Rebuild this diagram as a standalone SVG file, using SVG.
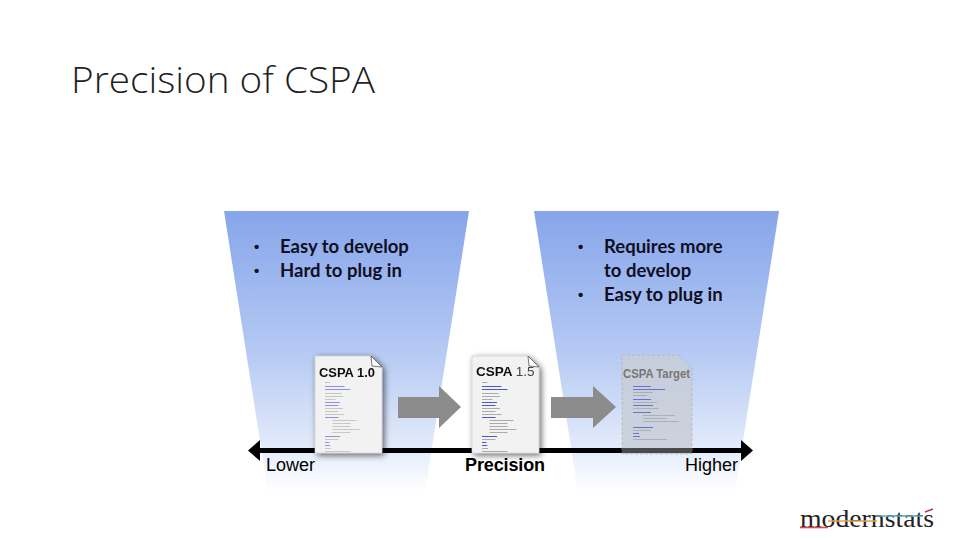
<svg xmlns="http://www.w3.org/2000/svg" width="960" height="540" viewBox="0 0 960 540">
<style>
.title{font-family:"Open Sans","Liberation Sans",sans-serif;font-weight:300;font-size:36px;fill:#1f1f1f}
.bul{font-family:Lato,"Liberation Sans",sans-serif;font-weight:700;font-size:18.5px;fill:#0f0f24}
.dot{font-family:"Liberation Sans",Arial,sans-serif;font-weight:700;font-size:15px;fill:#0f0f24}
.lab{font-family:"Liberation Sans",Arial,sans-serif;font-size:18px;fill:#000}
.doct{font-family:"Liberation Sans",Arial,sans-serif;font-weight:700;font-size:13.5px;fill:#111}
.doc{fill:#f2f2f2;stroke:#c8c8c8;stroke-width:.6}
.fold{fill:#fff;stroke:#555;stroke-width:.8}
.a{fill:#8c8c8c}
.b{fill:#3a46c8}
.g{fill:#999}
</style>
<defs>
<linearGradient id="fade" x1="0" y1="0" x2="0" y2="1">
<stop offset="0" stop-color="#86a5ea"/>
<stop offset=".5" stop-color="#b5c9f3"/>
<stop offset=".85" stop-color="#e4ecfb"/>
<stop offset="1" stop-color="#ffffff"/>
</linearGradient>
<filter id="sh" x="-20%" y="-20%" width="140%" height="140%">
<feGaussianBlur in="SourceAlpha" stdDeviation="3"/>
<feOffset dx="2" dy="2"/>
<feComponentTransfer><feFuncA type="linear" slope=".6"/></feComponentTransfer>
<feMerge><feMergeNode/><feMergeNode in="SourceGraphic"/></feMerge>
</filter>
<g id="lines">
<rect class="g" x="12" y="26" width="7" height=".8"/>
<rect class="b" x="12" y="30" width="26" height=".9"/>
<rect class="b" x="12" y="33" width="34" height=".9"/>
<rect class="g" x="12" y="37" width="22" height=".8"/>
<rect class="g" x="12" y="40" width="24" height=".8"/>
<rect class="g" x="12" y="43" width="14" height=".8"/>
<rect class="b" x="12" y="46" width="20" height=".9"/>
<rect class="b" x="12" y="49" width="18" height=".9"/>
<rect class="g" x="12" y="52" width="24" height=".8"/>
<rect class="g" x="12" y="55" width="18" height=".8"/>
<rect class="g" x="12" y="58" width="26" height=".8"/>
<rect class="b" x="12" y="61" width="18" height=".9"/>
<rect class="g" x="22" y="64" width="32" height=".8"/>
<rect class="g" x="22" y="67" width="24" height=".8"/>
<rect class="g" x="22" y="70" width="24" height=".8"/>
<rect class="g" x="22" y="73" width="36" height=".8"/>
<rect class="g" x="22" y="76" width="24" height=".8"/>
<rect class="b" x="12" y="80" width="20" height=".9"/>
<rect class="g" x="12" y="83" width="18" height=".8"/>
<rect class="b" x="12" y="86" width="6" height=".9"/>
<rect class="b" x="12" y="89" width="7" height=".9"/>
<rect class="g" x="12" y="92" width="8" height=".8"/>
<rect class="g" x="12" y="95" width="34" height=".8"/>
</g>
</defs>
<text class="title" x="71" y="93" textLength="304" lengthAdjust="spacingAndGlyphs">Precision of CSPA</text>

<g id="funnel-left">
<path d="M224 211H469L425 492H268Z" fill="url(#fade)"/>
<text class="dot"><tspan x="254" y="252">•</tspan><tspan x="254" y="276">•</tspan></text>
<text class="bul"><tspan x="280" y="253">Easy to develop</tspan><tspan x="280" y="277">Hard to plug in</tspan></text>
</g>
<g id="funnel-right">
<path d="M534 211H779L735 492H578Z" fill="url(#fade)"/>
<text class="dot"><tspan x="578" y="252">•</tspan><tspan x="578" y="300">•</tspan></text>
<text class="bul"><tspan x="604" y="253">Requires more</tspan><tspan x="604" y="277">to develop</tspan><tspan x="604" y="301">Easy to plug in</tspan></text>
</g>

<g id="connectors">
<path d="M258 450.500H742" stroke="#000" stroke-width="5" fill="none"/>
<path d="M248 450.500L260 440V461Z M753 450.500L741 440V461Z" fill="#000"/>
<path class="a" d="M398 397H439V386L461 407L439 428V418H398Z"/>
<path class="a" d="M551 397H593V386L616 407L593 428V418H551Z"/>
</g>

<g id="doc-10" filter="url(#sh)">
<path class="doc" d="M315 356H371L382 367V453H315Z"/>
<path class="fold" d="M371 356L382 367L372 366Z"/>
<text class="doct" x="319" y="377" textLength="56" lengthAdjust="spacingAndGlyphs">CSPA 1.0</text>
<use href="#lines" transform="translate(316 356) scale(.75 1)" opacity=".6"/>
</g>
<g id="doc-15" filter="url(#sh)">
<path class="doc" d="M472 356H528L539 367V453H472Z"/>
<path class="fold" d="M528 356L539 367L529 366Z"/>
<text class="doct" x="476" y="376">CSPA <tspan font-weight="400" fill="#444" style="font-weight:400">1.5</tspan></text>
<use href="#lines" transform="translate(473 356) scale(.75 1)"/>
</g>
<g id="doc-target">
<path d="M622 355H678L692 368V454H622Z" fill="#c9ced8" opacity=".85" stroke="#aaa" stroke-width=".7" stroke-dasharray="3 2"/>
<rect x="622" y="448" width="70" height="5" fill="#4a4a4a"/>
<text class="doct" x="623" y="378" style="fill:#777" textLength="67" lengthAdjust="spacingAndGlyphs">CSPA Target</text>
<g opacity=".75">
<rect class="b" x="633" y="386" width="18" height=".9"/>
<rect class="b" x="633" y="389" width="32" height=".9"/>
<rect class="g" x="633" y="392" width="20" height=".8"/>
<rect class="g" x="633" y="395" width="14" height=".8"/>
<rect class="b" x="633" y="399" width="18" height=".9"/>
<rect class="g" x="633" y="402" width="24" height=".8"/>
<rect class="b" x="633" y="405" width="20" height=".9"/>
<rect class="g" x="633" y="408" width="26" height=".8"/>
<rect class="b" x="633" y="412" width="18" height=".9"/>
<rect class="g" x="643" y="415" width="32" height=".8"/>
<rect class="g" x="643" y="418" width="24" height=".8"/>
<rect class="g" x="643" y="421" width="36" height=".8"/>
<rect class="b" x="633" y="427" width="20" height=".9"/>
<rect class="g" x="633" y="430" width="18" height=".8"/>
<rect class="b" x="633" y="433" width="6" height=".9"/>
<rect class="b" x="633" y="436" width="7" height=".9"/>
<rect class="g" x="633" y="439" width="34" height=".8"/>
</g>
</g>

<text class="lab" x="266" y="471">Lower</text>
<text class="lab" x="465" y="471" style="font-weight:700" textLength="80">Precision</text>
<text class="lab" x="685" y="471" textLength="53">Higher</text>

<g id="logo">
<text x="800" y="527" font-family="Liberation Serif,serif" font-size="25" fill="#222" textLength="134" lengthAdjust="spacingAndGlyphs">modernstats</text>
<path d="M800 527.500H828" stroke="#d84a4a" stroke-width="1.6"/>
<path d="M828 521H877" stroke="#e0a04a" stroke-width="1.6"/>
<path d="M877 516H923" stroke="#5aa8c0" stroke-width="1.6"/>
<path d="M925 512L933 509" stroke="#a83a6a" stroke-width="1.6"/>
</g>
</svg>
